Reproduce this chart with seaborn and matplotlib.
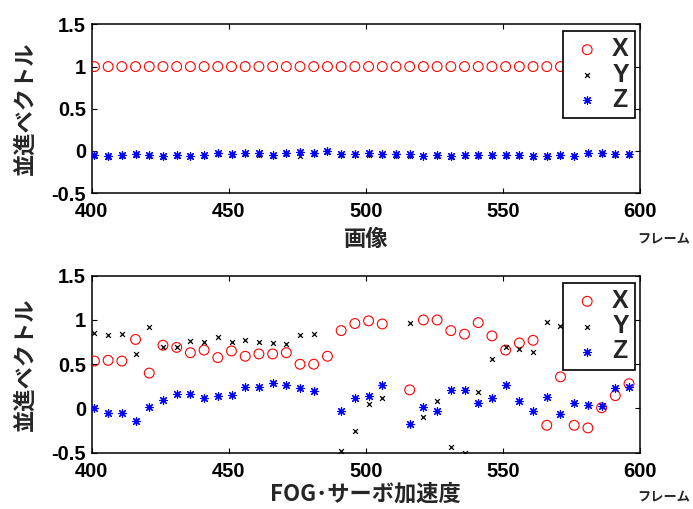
import numpy as np
import pandas as pd
import matplotlib
matplotlib.use("Agg")
import matplotlib.pyplot as plt
import seaborn as sns

# ---------------- data ----------------
frames = list(range(401, 597, 5))  # 40 samples, every 5 frames

top_x = [1.0, 1.0, 1.0, 1.0, 1.0, 1.0, 1.0, 1.0, 1.0, 1.0,
         1.0, 1.0, 1.0, 1.0, 1.0, 1.0, 1.0, 1.0, 1.0, 1.0,
         1.0, 1.0, 1.0, 1.0, 1.0, 1.0, 1.0, 1.0, 1.0, 1.0,
         1.0, 1.0, 1.0, 1.0, 1.0, 1.0, 1.0, 1.0, 1.0, 1.0]
top_y = [-0.06, -0.07, -0.06, -0.05, -0.06, -0.07, -0.06, -0.065, -0.06, -0.035,
         -0.05, -0.04, -0.045, -0.065, -0.04, -0.065, -0.04, -0.015, -0.045, -0.05,
         -0.045, -0.05, -0.055, -0.055, -0.065, -0.065, -0.07, -0.065, -0.065, -0.06,
         -0.06, -0.065, -0.07, -0.07, -0.06, -0.055, -0.02, -0.035, -0.05, -0.05]
top_z = [-0.047, -0.06, -0.05, -0.035, -0.05, -0.06, -0.047, -0.055, -0.047, -0.02,
         -0.04, -0.02, -0.028, -0.05, -0.024, -0.008, -0.02, -0.004, -0.035, -0.04,
         -0.03, -0.036, -0.043, -0.04, -0.055, -0.051, -0.055, -0.051, -0.051, -0.051,
         -0.051, -0.051, -0.055, -0.055, -0.051, -0.055, -0.03, -0.03, -0.04, -0.04]

nan = np.nan
bot_x = [0.536, 0.544, 0.536, 0.78, 0.40, 0.715, 0.69, 0.63, 0.66, 0.575,
         0.65, 0.59, 0.616, 0.616, 0.63, 0.50, 0.50, 0.59, 0.88, 0.96,
         0.99, 0.955, nan, 0.21, 1.0, 1.0, 0.88, 0.84, 0.97, 0.82,
         0.66, 0.74, 0.77, -0.19, 0.357, -0.19, -0.22, 0.008, 0.145, 0.28]
bot_y = [0.855, 0.833, 0.84, 0.61, 0.916, 0.69, 0.70, 0.76, 0.75, 0.81,
         0.75, 0.77, 0.75, 0.74, 0.726, 0.83, 0.84, nan, -0.483, -0.26,
         0.05, 0.12, nan, 0.97, -0.095, 0.084, -0.43, -0.5, 0.19, 0.56,
         0.70, 0.67, 0.64, 0.977, 0.93, nan, nan, nan, nan, nan]
bot_z = [0.01, -0.05, -0.05, -0.14, 0.02, 0.10, 0.16, 0.163, 0.12, 0.137,
         0.156, 0.24, 0.24, 0.29, 0.27, 0.23, 0.20, nan, -0.027, 0.12,
         0.145, 0.27, nan, -0.18, 0.02, -0.027, 0.21, 0.21, 0.065, 0.12,
         0.26, 0.087, -0.03, 0.125, -0.065, 0.065, 0.04, 0.03, 0.235, 0.245]

series_names = ["X", "Y", "Z"]
x_ticks = [400, 450, 500, 550, 600]
y_ticks = [-0.5, 0, 0.5, 1, 1.5]
y_tick_labels = ["-0.5", "0", "0.5", "1", "1.5"]
ylabel_text = "並進ベクトル"
top_xlabel = "画像"
bot_xlabel = "FOG･サーボ加速度"
unit_text = "フレーム"

# ---------------- style ----------------
sns.set_theme(style="ticks")
plt.rcParams["font.family"] = ["Liberation Sans", "Noto Sans CJK JP", "DejaVu Sans"]
plt.rcParams.update({
    "xtick.direction": "in", "ytick.direction": "in",
    "xtick.top": True, "ytick.right": True,
    "xtick.major.size": 3.5, "ytick.major.size": 3.5,
    "xtick.major.width": 0.8, "ytick.major.width": 0.8,
    "axes.linewidth": 1.1, "axes.edgecolor": "black",
    "xtick.color": "black", "ytick.color": "black",
})
cjk = ["Noto Sans CJK JP", "DejaVu Sans"]

fig = plt.figure(figsize=(6.93, 5.09), dpi=100)
ax1 = fig.add_axes([0.1323, 0.6208, 0.7912, 0.3312])
ax2 = fig.add_axes([0.1323, 0.1106, 0.7912, 0.3477])


def draw(ax, xs, ys, zs, xlabel, xlabelpad, unit_y):
    df = pd.DataFrame({"frame": frames, "X": xs, "Y": ys, "Z": zs})
    sns.scatterplot(data=df, x="frame", y="X", ax=ax, marker="o", s=50,
                    facecolor="none", edgecolor="red", linewidth=0.8,
                    label=series_names[0], zorder=3)
    sns.scatterplot(data=df, x="frame", y="Y", ax=ax, marker="x", s=12,
                    color="black", linewidth=0.9, label=series_names[1], zorder=3)
    sns.scatterplot(data=df, x="frame", y="Z", ax=ax, marker=(8, 2, 0), s=32,
                    color="blue", linewidth=0.85, label=series_names[2], zorder=3)
    ax.set_xlim(400, 600)
    ax.set_ylim(-0.5, 1.5)
    ax.set_xticks(x_ticks)
    ax.set_xticklabels([str(t) for t in x_ticks])
    ax.set_yticks(y_ticks)
    ax.set_yticklabels(y_tick_labels)
    for lab in ax.get_xticklabels() + ax.get_yticklabels():
        lab.set_fontsize(14.5)
        lab.set_fontweight("bold")
    ax.tick_params(axis="x", pad=6.5)
    ax.tick_params(axis="y", pad=4)
    ax.set_ylabel(ylabel_text, family=cjk, fontsize=16, fontweight="bold", labelpad=11)
    ax.set_xlabel(xlabel, family=cjk, fontsize=16, fontweight="bold", labelpad=xlabelpad)
    for sp in ax.spines.values():
        sp.set_visible(True)
        sp.set_color("black")
    leg = ax.legend(loc="upper right", bbox_to_anchor=(0.991, 0.961),
                    borderaxespad=0, prop={"weight": "bold", "size": 18},
                    frameon=True, fancybox=False, framealpha=1, edgecolor="black",
                    borderpad=0.25, labelspacing=0.05, handlelength=1.4,
                    handletextpad=0.3, scatterpoints=1)
    leg.get_frame().set_linewidth(1.2)
    fig.text(637 / 693, unit_y, unit_text, family=cjk, fontsize=9.5,
             fontweight="bold", ha="left", va="center")


draw(ax1, top_x, top_y, top_z, top_xlabel, 5, 1 - 238 / 509)
draw(ax2, bot_x, bot_y, bot_z, bot_xlabel, 1.5, 1 - 496 / 509)

fig.savefig("out.png", dpi=100)
